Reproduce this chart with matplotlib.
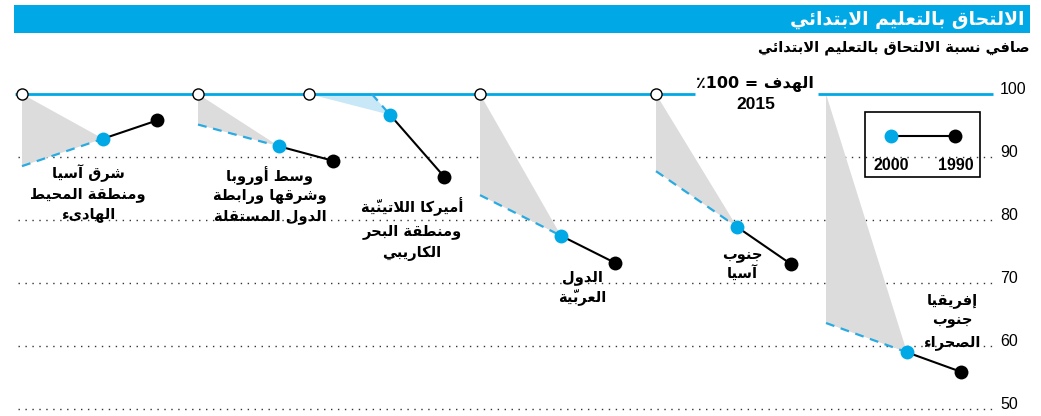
"""Net primary enrolment chart (Arabic) — slope segments towards the 2015 goal."""

import matplotlib
matplotlib.use("Agg")
import matplotlib.pyplot as plt
from matplotlib.patches import Polygon, Rectangle

# ---- data -----------------------------------------------------------------
title = "الالتحاق بالتعليم الابتدائي"
subtitle = "صافي نسبة الالتحاق بالتعليم الابتدائي"
regions = [
    ["شرق آسيا", "ومنطقة المحيط", "الهادىء"],
    ["وسط أوروبا", "وشرقها ورابطة", "الدول المستقلة"],
    ["أميركا اللاتينيّة", "ومنطقة البحر", "الكاريبي"],
    ["الدول", "العربيّة"],
    ["جنوب", "آسيا"],
    ["إفريقيا", "جنوب", "الصحراء"],
]
enrol_1990 = [95.8, 89.4, 86.9, 73.2, 73.0, 55.9]
enrol_2000 = [92.9, 91.7, 96.7, 77.5, 78.9, 59.0]
goal_value = 100
goal_year = 2015
goal_word = "الهدف"
grid_ticks = [100, 90, 80, 70, 60, 50]
legend_years = [2000, 1990]

# ---- layout (pixels) ------------------------------------------------------
W, H = 1041, 416
y100_px, px_per_unit = 94, 6.3
goal_x = [22, 198, 309, 480, 656, 826]
show_goal_marker = [True, True, True, True, True, False]
px_per_year = 5.4
label_x = [88, 270, 412, 582, 742, 952]
label_y = [[173, 194, 215], [176, 196, 217], [207, 231, 253],
           [277, 297], [255, 274], [300, 321, 342]]
goal_line_segments = [(15, 695), (818, 993)]

BLUE = "#00A9E6"
DASH_BLUE = "#29ABE2"
GREY_FILL = "#DCDCDC"
LIGHT_BLUE_FILL = "#C8E7F7"


# ---- minimal Arabic shaping (matplotlib has no complex text layout) -------
_chars = [chr(c) for c in range(0x621, 0x63B)] + [chr(c) for c in range(0x641, 0x64B)]
_counts = "12222424244444222244444444" + "4444444224"
FORMS = {}
_code = 0xFE80
for _ch, _n in zip(_chars, _counts):
    FORMS[_ch] = (_code, int(_n))
    _code += int(_n)
LAM_ALEF = {"\u0622": 0xFEF5, "\u0623": 0xFEF7, "\u0625": 0xFEF9, "\u0627": 0xFEFB}


def _is_mark(ch):
    return 0x064B <= ord(ch) <= 0x0652


def shape(text):
    """Return visual-order string using Arabic presentation forms."""
    clusters = []
    for ch in text:
        if _is_mark(ch) and clusters:
            clusters[-1][1] += ch
        else:
            clusters.append([ch, ""])
    out = []
    i = 0
    while i < len(clusters):
        ch, marks = clusters[i]
        prev = clusters[i - 1][0] if i > 0 else None
        nxt = clusters[i + 1][0] if i + 1 < len(clusters) else None
        joins_prev = prev in FORMS and FORMS[prev][1] == 4
        if ch == "\u0644" and nxt in LAM_ALEF:
            base = LAM_ALEF[nxt]
            out.append(chr(base + (1 if joins_prev else 0)) + marks + clusters[i + 1][1])
            i += 2
            continue
        if ch in FORMS:
            start, n = FORMS[ch]
            joins_next = n == 4 and nxt in FORMS and FORMS[nxt][1] > 1
            if n == 1:
                form = 0
            elif joins_prev and joins_next:
                form = 3
            elif joins_prev:
                form = 1
            elif joins_next:
                form = 2
            else:
                form = 0
            out.append(chr(start + form) + marks)
        else:
            out.append(ch + marks)
        i += 1
    return "".join(reversed(out))


def vy(y_px):
    """Pixel row -> data value."""
    return goal_value - (y_px - y100_px) / px_per_unit


# ---- figure ---------------------------------------------------------------
fig = plt.figure(figsize=(W / 100, H / 100), dpi=100)
ax = fig.add_axes([0, 0, 1, 1])
ax.set_xlim(0, W)
ax.set_ylim(vy(H), vy(0))
ax.axis("off")

AR_FONT = ["DejaVu Sans"]

# header bar
ax.add_patch(Rectangle((14, vy(33)), 1016, vy(5) - vy(33), color=BLUE, lw=0, zorder=1))
ax.text(1025, vy(19), shape(title), color="white", fontsize=13.5, fontweight="bold",
        ha="right", va="center", family=AR_FONT, zorder=2)
ax.text(1030, vy(47), shape(subtitle), color="black", fontsize=10.5, fontweight="bold",
        ha="right", va="center", family=AR_FONT)

# dotted grid + tick labels
for t in grid_ticks:
    if t != goal_value:
        ax.plot([18, 995], [t, t], color="#333333", lw=1, ls=(0, (1, 4)), zorder=1)
    ax.text(1000, t + 0.7, str(t), fontsize=11.5, ha="left", va="center",
            family="Liberation Sans")

# goal line
for x0, x1 in goal_line_segments:
    ax.plot([x0, x1], [goal_value, goal_value], color=BLUE, lw=2, zorder=3,
            solid_capstyle="butt")
ax.text(755, vy(84), "٪" + str(goal_value) + " = " + shape(goal_word), fontsize=11.5,
        fontweight="bold", ha="center", va="center", family=AR_FONT)
ax.text(756, vy(104), str(goal_year), fontsize=12.5, fontweight="bold",
        ha="center", va="center", family="Liberation Sans")

# regions
for i, lines in enumerate(regions):
    x_goal = goal_x[i]
    x00 = x_goal + (goal_year - 2000) * px_per_year
    x90 = x_goal + (goal_year - 1990) * px_per_year
    v90, v00 = enrol_1990[i], enrol_2000[i]
    rate = (v00 - v90) / 10.0
    proj = v00 + rate * (goal_year - 2000)
    if proj <= goal_value:
        end = (x_goal, proj)
        fill = GREY_FILL
    else:
        yrs = (goal_value - v00) / rate
        end = (x00 - yrs * px_per_year, goal_value)
        fill = LIGHT_BLUE_FILL
    poly = [(x_goal, goal_value), end, (x00, v00)]
    ax.add_patch(Polygon(poly, closed=True, color=fill, lw=0, zorder=2))
    ax.plot([end[0], x00], [end[1], v00], color=DASH_BLUE, lw=1.6,
            ls=(0, (4, 3)), zorder=4)
    ax.plot([x00, x90], [v00, v90], color="black", lw=1.5, zorder=4)
    ax.plot(x00, v00, "o", ms=10, color=BLUE, mec="none", zorder=5)
    ax.plot(x90, v90, "o", ms=10, color="black", mec="none", zorder=5)
    if show_goal_marker[i]:
        ax.plot(x_goal, goal_value, "o", ms=8, mfc="white", mec="black", mew=1, zorder=6)
    for line, ly in zip(lines, label_y[i]):
        ax.text(label_x[i], vy(ly), shape(line), fontsize=10.5, fontweight="bold",
                ha="center", va="center", family=AR_FONT, zorder=7)

# legend box
ax.add_patch(Rectangle((865, vy(177)), 115, vy(112) - vy(177), fill=False,
                       ec="black", lw=1.2, zorder=3))
ax.plot([891, 955], [vy(136), vy(136)], color="black", lw=1.5, zorder=4)
ax.plot(891, vy(136), "o", ms=10, color=BLUE, mec="none", zorder=5)
ax.plot(955, vy(136), "o", ms=10, color="black", mec="none", zorder=5)
ax.text(891, vy(165), str(legend_years[0]), fontsize=11.5, fontweight="bold",
        ha="center", va="center", family="Liberation Sans")
ax.text(956, vy(165), str(legend_years[1]), fontsize=11.5, fontweight="bold",
        ha="center", va="center", family="Liberation Sans")

fig.savefig("out.png", dpi=100)
plt.close(fig)
